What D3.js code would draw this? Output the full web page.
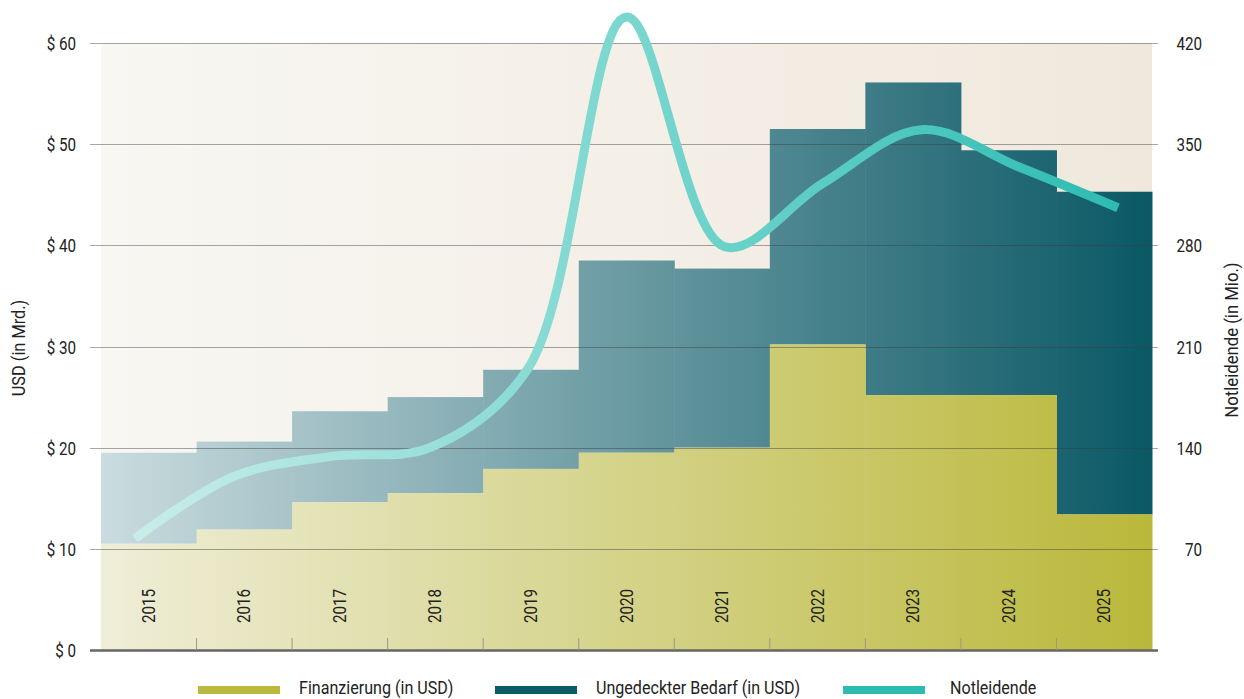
<!DOCTYPE html>
<html><head><meta charset="utf-8">
<script src="https://cdn.jsdelivr.net/npm/d3@7"></script>
<style>
html,body{margin:0;padding:0;background:#fff;}
svg{display:block;}
text{font-family:Roboto,"DejaVu Sans",sans-serif;fill:#222;}
</style></head>
<body>
<svg id="chart" width="1244" height="699"></svg>
<script>
const years = ["2015","2016","2017","2018","2019","2020","2021","2022","2023","2024","2025"];
const finanzierung = [10.5, 11.9, 14.6, 15.5, 17.9, 19.5, 20.0, 30.2, 25.2, 25.2, 13.4];
const ungedeckt   = [9.0, 8.7, 9.0, 9.5, 9.8, 19.0, 17.7, 21.3, 30.9, 24.2, 31.9];
const notleidende = [77, 120, 134, 140, 195, 438, 279, 323, 360, 334, 306];
const leftTicks = [0, 10, 20, 30, 40, 50, 60];
const rightTicks = [70, 140, 210, 280, 350, 420];
const legendItems = ["Finanzierung (in USD)", "Ungedeckter Bedarf (in USD)", "Notleidende"];

const svg = d3.select("#chart");
const L = 101, R = 1152, T = 43, B = 650;
const x = d3.scaleBand().domain(years).range([L, R]).padding(0);
const yL = d3.scaleLinear().domain([0, 60]).range([B, T]);
const yR = d3.scaleLinear().domain([0, 420]).range([B, T]);
const xLine = d3.scalePoint().domain(years).range([135, 1118]);

function label(parent, tx, ty, rot, txt, size, anchor, sx) {
  const g = parent.append("g").attr("transform", `translate(${tx},${ty}) rotate(${rot}) scale(${sx || 0.8},1)`);
  g.append("text").attr("text-anchor", anchor).attr("font-size", size).text(txt);
  return g;
}

const defs = svg.append("defs");
function grad(id, c0, c1) {
  const g = defs.append("linearGradient").attr("id", id)
    .attr("gradientUnits", "userSpaceOnUse")
    .attr("x1", L).attr("x2", R).attr("y1", 0).attr("y2", 0);
  g.append("stop").attr("offset", 0).attr("stop-color", c0);
  g.append("stop").attr("offset", 1).attr("stop-color", c1);
}
grad("gBg", "#f8f7f3", "#f0e8dc");
grad("gFin", "#efeed8", "#bab83a");
grad("gUng", "#cadcdf", "#0a5865");
const gl = defs.append("linearGradient").attr("id", "gLine")
  .attr("gradientUnits", "userSpaceOnUse")
  .attr("x1", 135).attr("x2", 1118).attr("y1", 0).attr("y2", 0);
gl.append("stop").attr("offset", 0).attr("stop-color", "#c8ede8");
gl.append("stop").attr("offset", 0.5).attr("stop-color", "#7ad7cf");
gl.append("stop").attr("offset", 1).attr("stop-color", "#2dbcb2");

// background
svg.append("rect").attr("x", L).attr("y", yL(60)).attr("width", R - L).attr("height", yL(0) - yL(60))
  .attr("fill", "url(#gBg)");

// bars
const data = years.map((y, i) => ({ year: y, f: finanzierung[i], u: ungedeckt[i] }));
svg.append("g").selectAll("rect").data(data).join("rect")
  .attr("x", d => x(d.year)).attr("width", x.bandwidth() + 0.5)
  .attr("y", d => yL(d.f + d.u)).attr("height", d => yL(d.f) - yL(d.f + d.u))
  .attr("fill", "url(#gUng)");
svg.append("g").selectAll("rect").data(data).join("rect")
  .attr("x", d => x(d.year)).attr("width", x.bandwidth() + 0.5)
  .attr("y", d => yL(d.f)).attr("height", d => yL(0) - yL(d.f))
  .attr("fill", "url(#gFin)");

// gridlines over bars
svg.append("g").selectAll("line").data(leftTicks.filter(t => t > 0)).join("line")
  .attr("x1", 90).attr("x2", 1158)
  .attr("y1", d => Math.round(yL(d)) + 0.5).attr("y2", d => Math.round(yL(d)) + 0.5)
  .attr("stroke", "rgba(60,60,60,0.45)").attr("stroke-width", 1.2);

// line
const line = d3.line().x((d, i) => xLine(years[i])).y(d => yR(d)).curve(d3.curveCatmullRom.alpha(0.5));
svg.append("path").datum(notleidende).attr("d", line)
  .attr("fill", "none").attr("stroke", "url(#gLine)").attr("stroke-width", 9);

// x axis
svg.append("line").attr("x1", 90).attr("x2", 1158).attr("y1", B + 0.5).attr("y2", B + 0.5)
  .attr("stroke", "#666").attr("stroke-width", 2.5);
svg.append("g").selectAll("line").data(years.slice(1)).join("line")
  .attr("x1", d => x(d)).attr("x2", d => x(d)).attr("y1", B - 12).attr("y2", B)
  .attr("stroke", "#9a9a8a").attr("stroke-width", 1);
const gYears = svg.append("g");
years.forEach(d => label(gYears, x(d) + x.bandwidth() / 2 + 6, 606, -90, d, 19, "middle"));

// left ticks
const gLT = svg.append("g");
leftTicks.forEach(d => label(gLT, 76, yL(d) + 7, 0, "$ " + d, 19, "end"));
// right ticks
const gRT = svg.append("g");
rightTicks.forEach(d => label(gRT, 1202, yR(d) + 7, 0, d, 19, "end"));

// axis titles
label(svg, 25, 348, -90, "USD (in Mrd.)", 19, "middle", 0.86);
label(svg, 1238, 340, -90, "Notleidende (in Mio.)", 19, "middle", 0.88);

// legend
const legColors = ["#bcba3e", "#0b5b68", "#2dbcb2"];
const legSw = [198, 495, 843];
const legTx = [299, 596, 950];
legendItems.forEach((t, i) => {
  svg.append("rect").attr("x", legSw[i]).attr("y", 686).attr("width", 82).attr("height", 8).attr("fill", legColors[i]);
  label(svg, legTx[i], 694, 0, t, 18.5, "start", 0.87);
});
</script>
</body></html>
